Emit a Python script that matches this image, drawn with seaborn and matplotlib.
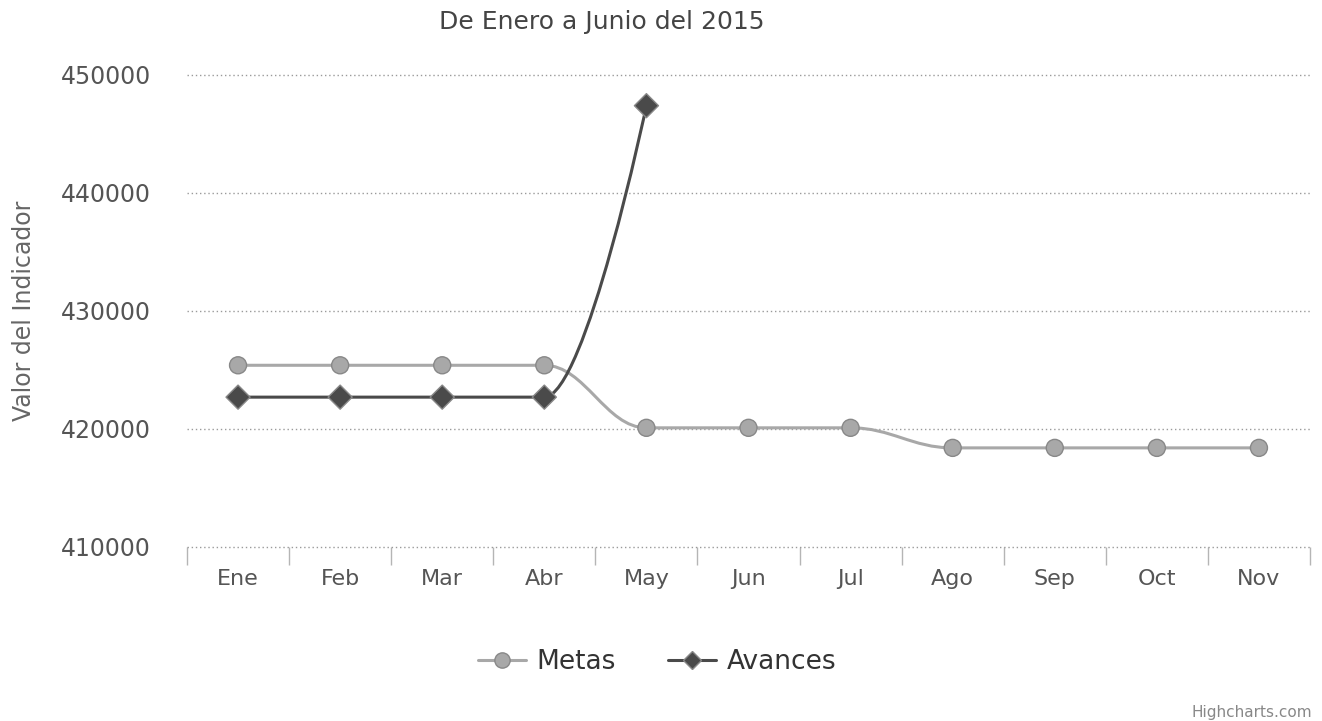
import numpy as np
import pandas as pd
import matplotlib
matplotlib.use("Agg")
import matplotlib.pyplot as plt
from matplotlib.path import Path
from matplotlib.patches import PathPatch
from matplotlib.lines import Line2D
import seaborn as sns

# data
months = ["Ene", "Feb", "Mar", "Abr", "May", "Jun", "Jul", "Ago", "Sep", "Oct", "Nov"]
metas = [425400, 425400, 425400, 425400, 420100, 420100, 420100, 418400, 418400, 418400, 418400]
avances = [422700, 422700, 422700, 422700, 447400]
y_ticks = [410000, 420000, 430000, 440000, 450000]

metas_color = "#a8a8a8"
avances_color = "#4a4a4a"


# Highcharts-like spline (smoothing 1.5) through the data points
def spline_path(xs, ys, smoothing=1.5):
    denom = smoothing + 1
    verts = [(xs[0], ys[0])]
    codes = [Path.MOVETO]
    right_prev = (xs[0], ys[0])
    n = len(xs)
    for i in range(1, n):
        x, y = xs[i], ys[i]
        lx, ly = xs[i - 1], ys[i - 1]
        if i < n - 1:
            nx, ny = xs[i + 1], ys[i + 1]
            lcx = (smoothing * x + lx) / denom
            lcy = (smoothing * y + ly) / denom
            rcx = (smoothing * x + nx) / denom
            rcy = (smoothing * y + ny) / denom
            if rcx != lcx:
                corr = (rcy - lcy) * (rcx - x) / (rcx - lcx) + y - rcy
                lcy += corr
                rcy += corr
            if lcy > ly and lcy > y:
                lcy = max(ly, y)
                rcy = 2 * y - lcy
            elif lcy < ly and lcy < y:
                lcy = min(ly, y)
                rcy = 2 * y - lcy
            if rcy > ny and rcy > y:
                rcy = max(ny, y)
                lcy = 2 * y - rcy
            elif rcy < ny and rcy < y:
                rcy = min(ny, y)
                lcy = 2 * y - rcy
            left, right = (lcx, lcy), (rcx, rcy)
        else:
            left, right = (x, y), (x, y)
        verts += [right_prev, left, (x, y)]
        codes += [Path.CURVE4] * 3
        right_prev = right
    return Path(verts, codes)


sns.set_style("white")
plt.rcParams["font.family"] = ["DejaVu Sans"]

fig = plt.figure(figsize=(13.22, 7.21), dpi=100)
ax = fig.add_axes([187 / 1322, 1 - 547 / 721, (1310 - 187) / 1322, (547 - 75) / 721])

df = pd.DataFrame({
    "mes": list(range(len(metas))) + list(range(len(avances))),
    "valor": metas + avances,
    "serie": ["Metas"] * len(metas) + ["Avances"] * len(avances),
})

# smooth lines
for name, vals, col in [("Metas", metas, metas_color), ("Avances", avances, avances_color)]:
    p = spline_path(list(range(len(vals))), vals)
    ax.add_patch(PathPatch(p, facecolor="none", edgecolor=col, lw=2.2, zorder=3))

sns.scatterplot(data=df, x="mes", y="valor", hue="serie", style="serie",
                palette={"Metas": metas_color, "Avances": avances_color},
                markers={"Metas": "o", "Avances": "D"},
                s=150, edgecolor="#888888", linewidth=1, zorder=4, legend=False, ax=ax)

ax.set_xlim(-0.5, len(months) - 0.5)
ax.set_ylim(y_ticks[0], y_ticks[-1])
ax.set_yticks(y_ticks)
ax.set_yticklabels([str(v) for v in y_ticks])
ax.set_xticks(range(len(months)))
ax.set_xticklabels(months)
ax.set_xticks(np.arange(-0.5, len(months), 1), minor=True)
ax.set_xlabel("")
ax.set_ylabel("")

for v in y_ticks:
    ax.axhline(v, color="#9a9a9a", lw=1, ls=(0, (1, 2)), zorder=1, clip_on=False)
for s in ax.spines.values():
    s.set_visible(False)

ax.tick_params(axis="y", length=0, pad=26, labelsize=17, labelcolor="#555555")
ax.tick_params(axis="x", which="major", bottom=False, length=0, pad=16, labelsize=16,
               labelcolor="#555555")
ax.tick_params(axis="x", which="minor", bottom=True, length=13, width=1, color="#b5b5b5",
               direction="out")

fig.text(602 / 1322, 1 - 22 / 721, "De Enero a Junio del 2015", ha="center", va="center",
         fontsize=18, color="#444444")
fig.text(24 / 1322, 1 - 311 / 721, "Valor del Indicador", rotation=90, ha="center", va="center",
         fontsize=17, color="#666666")
fig.text(1312 / 1322, 1 - 712 / 721, "Highcharts.com", ha="right", va="center",
         fontsize=11, color="#888888")

handles = [
    Line2D([], [], color=metas_color, lw=2.2, marker="o", markersize=11,
           markerfacecolor=metas_color, markeredgecolor="#888888"),
    Line2D([], [], color=avances_color, lw=2.2, marker="D", markersize=9,
           markerfacecolor=avances_color, markeredgecolor="#888888"),
]
leg = fig.legend(handles, ["Metas", "Avances"], loc="center", bbox_to_anchor=(657 / 1322, 1 - 662 / 721),
                 ncol=2, frameon=False, fontsize=19, handlelength=1.8, columnspacing=2.0,
                 handletextpad=0.4)
for t in leg.get_texts():
    t.set_color("#333333")

fig.savefig("out.png", dpi=100)
